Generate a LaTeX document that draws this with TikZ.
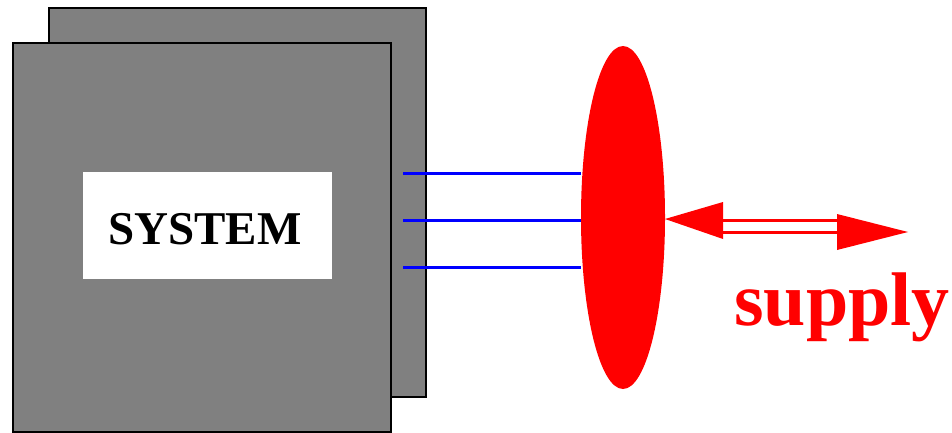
\documentclass[tikz,border=0pt]{standalone}
\usepackage{fontspec}
\setmainfont{Liberation Serif}
\usetikzlibrary{shapes.geometric}
\begin{document}
\begin{tikzpicture}[x=1pt,y=-1pt,
  panel/.style={draw=black,line width=1.5pt,fill={rgb,255:red,128;green,128;blue,128}},
  wire/.style={draw={rgb,255:red,0;green,0;blue,255},line width=3pt},
  redline/.style={draw=red,line width=3pt},
  head/.style={fill=red,draw=none}]
\useasboundingbox (0,0) rectangle (952,433);
% stacked panels
\path[panel] (49,8) rectangle (426,397);
\path[panel] (13,43) rectangle (391,432);
\node[fill=white,minimum width=249pt,minimum height=107pt,inner sep=0pt,anchor=north west] (label) at (83,172) {};
\node[font=\bfseries\fontsize{47}{47}\selectfont,anchor=base] (sys) at (205,244) {SYSTEM};
% ellipse
\node[ellipse,fill=red,minimum width=84pt,minimum height=343pt,inner sep=0pt] (ell) at (623,217.5) {};
% blue wires
\coordinate (w1) at (403,173);
\coordinate (w2) at (403,220);
\coordinate (w3) at (403,267);
\draw[wire] (w1) -- (w1 -| ell.west);
\draw[wire] (w2) -- (w2 -| ell.west);
\draw[wire] (w3) -- (w3 -| ell.west);
% double arrow
\coordinate (ltip) at (665,219);
\coordinate (rtip) at (908,232);
\draw[redline] (715,220) -- (850,220);
\draw[redline] (715,232) -- (850,232);
\path[head] (ltip) -- (723,202) -- (723,239) -- cycle;
\path[head] (rtip) -- (837,214) -- (837,250) -- cycle;
\node[font=\bfseries\fontsize{76}{76}\selectfont,text=red,anchor=base west,inner sep=0pt] (supply) at (734,325) {supply};
\end{tikzpicture}
\end{document}
